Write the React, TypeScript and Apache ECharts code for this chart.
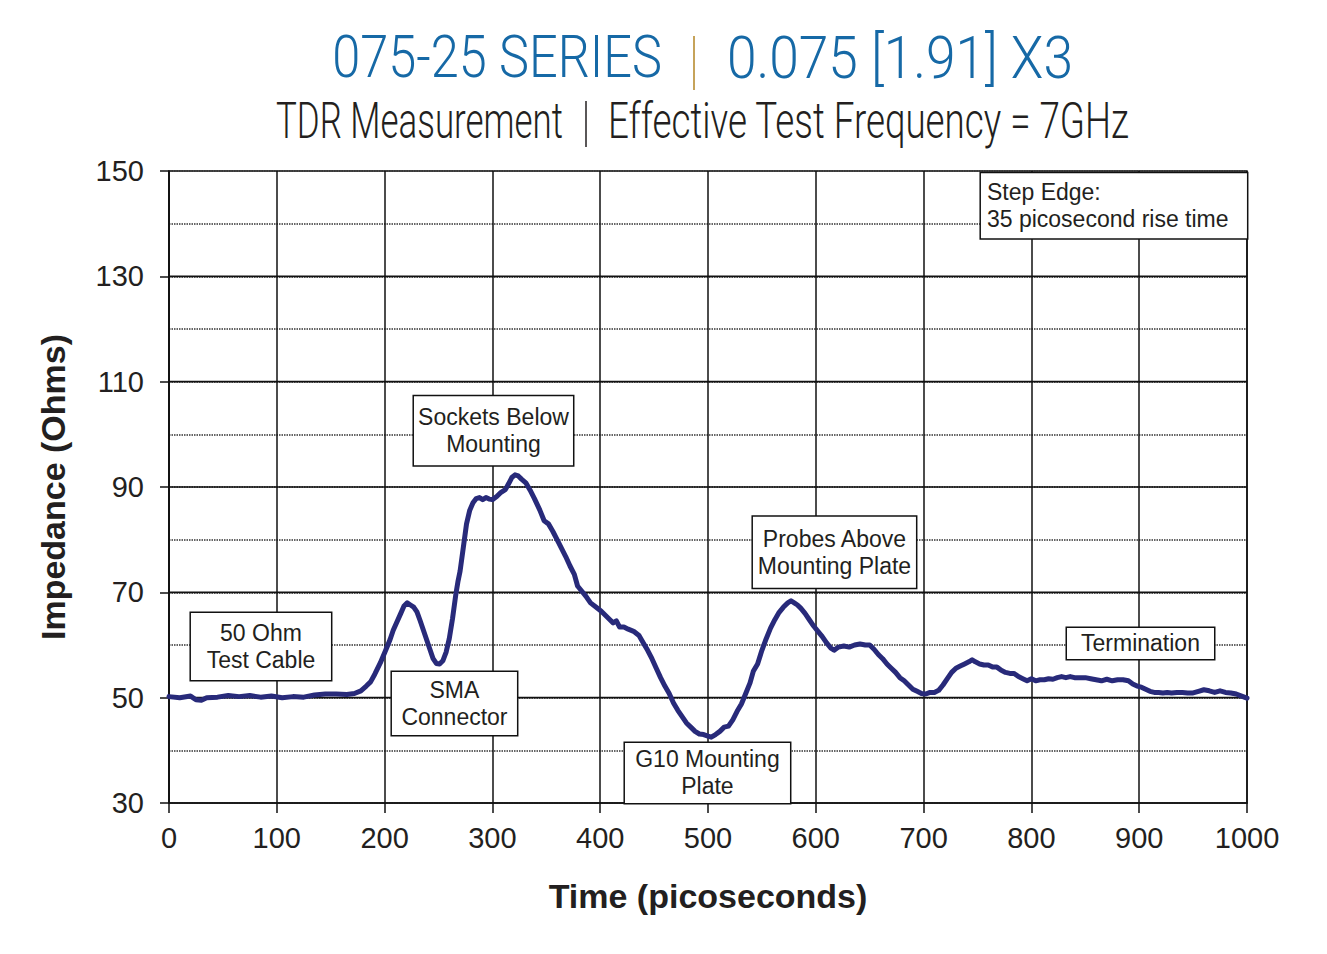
import React, { useEffect, useRef } from "react";
import * as echarts from "echarts";

const timePs = [
  0, 10, 20, 25, 30, 35, 45, 55, 65, 75, 85, 95, 105, 115, 125, 135, 145, 155, 165, 172,
  178, 183, 187, 191, 196, 201, 205, 208, 211, 215, 218, 221, 224, 227, 230, 233, 236, 239, 242, 245,
  248, 251, 254, 257, 260, 263, 266, 268, 270, 273, 276, 279, 282, 285, 288, 291, 294, 297, 300, 304,
  308, 312, 315, 318, 321, 324, 327, 331, 335, 339, 344, 348, 352, 356, 360, 364, 368, 372, 376, 379,
  383, 387, 391, 396, 401, 405, 409, 412, 415, 418, 422, 426, 431, 436, 440, 444, 448, 452, 456, 460,
  464, 468, 472, 476, 480, 484, 488, 492, 496, 500, 503, 507, 511, 515, 519, 523, 527, 531, 535, 539,
  542, 546, 550, 554, 558, 562, 566, 570, 574, 577, 580, 583, 586, 590, 594, 598, 602, 606, 610, 614,
  617, 621, 626, 631, 636, 641, 646, 650, 654, 658, 662, 666, 670, 674, 678, 682, 686, 690, 694, 698,
  702, 706, 710, 714, 718, 722, 726, 730, 734, 738, 742, 745, 748, 752, 756, 760, 764, 768, 772, 776,
  780, 784, 788, 792, 796, 800, 804, 808, 812, 816, 820, 824, 828, 832, 836, 840, 845, 850, 855, 860,
  865, 870, 875, 880, 885, 890, 894, 898, 902, 906, 910, 914, 918, 922, 926, 930, 935, 940, 945, 950,
  955, 960, 965, 970, 975, 980, 985, 990, 995, 1000,
];

const impedanceOhms = [
  50.2, 50.0, 50.3, 49.6, 49.5, 50.0, 50.1, 50.4, 50.2, 50.4, 50.1, 50.3, 50.0, 50.2, 50.1, 50.5, 50.7, 50.7, 50.6, 50.8,
  51.3, 52.2, 53.0, 54.5, 56.6, 59.0, 61.0, 62.8, 64.2, 66.0, 67.4, 68.0, 67.6, 67.2, 66.3, 64.6, 62.8, 61.0, 59.2, 57.4,
  56.5, 56.4, 57.0, 58.6, 61.2, 65.0, 69.5, 72.0, 74.0, 78.5, 83.0, 85.6, 87.0, 87.8, 88.0, 87.6, 88.0, 87.7, 87.6, 88.2,
  89.0, 89.5, 90.6, 91.8, 92.3, 92.1, 91.5, 90.8, 89.4, 87.8, 85.6, 83.6, 83.0, 81.6, 80.0, 78.4, 76.8, 75.0, 73.4, 71.2,
  70.2, 69.2, 68.0, 67.2, 66.4, 65.6, 64.8, 64.2, 64.6, 63.4, 63.4, 63.0, 62.6, 61.8, 60.4, 59.0, 57.4, 55.6, 53.8, 52.2,
  50.8, 49.0, 47.6, 46.4, 45.2, 44.4, 43.6, 43.1, 43.0, 42.7, 42.5, 43.0, 43.6, 44.4, 44.6, 45.8, 47.4, 48.8, 50.8, 52.8,
  55.0, 56.4, 59.0, 61.2, 63.2, 64.8, 66.2, 67.2, 68.0, 68.4, 68.0, 67.6, 67.0, 66.0, 64.8, 63.6, 62.6, 61.6, 60.4, 59.4,
  59.0, 59.6, 59.8, 59.6, 60.0, 60.2, 60.0, 60.0, 59.2, 58.2, 57.4, 56.4, 55.6, 54.8, 53.8, 53.2, 52.4, 51.6, 51.2, 50.8,
  50.7, 51.0, 51.0, 51.4, 52.4, 53.6, 54.8, 55.6, 56.0, 56.4, 56.8, 57.2, 56.8, 56.4, 56.2, 56.2, 55.8, 55.8, 55.2, 54.8,
  54.6, 54.6, 54.0, 53.6, 53.2, 53.6, 53.2, 53.4, 53.4, 53.6, 53.5, 53.8, 54.0, 53.8, 54.0, 53.8, 53.8, 53.8, 53.6, 53.4,
  53.2, 53.5, 53.2, 53.4, 53.4, 53.2, 52.6, 52.2, 52.0, 51.6, 51.2, 51.0, 51.0, 50.9, 51.0, 50.9, 51.0, 51.0, 50.9, 50.9,
  51.2, 51.5, 51.3, 51.0, 51.3, 51.0, 50.9, 50.7, 50.3, 49.9,
];

const xTickValues = [0, 100, 200, 300, 400, 500, 600, 700, 800, 900, 1000];
const yTickLabels = [30, 50, 70, 90, 110, 130, 150];

const annotationTexts = [
  "50 Ohm\nTest Cable",
  "SMA\nConnector",
  "Sockets Below\nMounting",
  "G10 Mounting\nPlate",
  "Probes Above\nMounting Plate",
  "Termination",
  "Step Edge:\n35 picosecond rise time",
];
// anchor (data units) of each annotation box
const annotationTime = [85.3, 264.8, 301.0, 499.5, 617.3, 901.2, 753.2];
const annotationOhms = [59.7, 48.9, 100.7, 35.7, 77.6, 60.3, 143.4];
// box layout (px)
const annotationBoxW = [140, 125, 159, 165, 163, 147, 266];
const annotationBoxH = [67, 63, 69, 60, 71, 31, 65];
const annotationAlign = ["center", "center", "center", "center", "center", "center", "left"];

const TITLE_FAMILY = "Roboto, 'Liberation Sans Narrow', 'DejaVu Sans Condensed', sans-serif";
const AXIS_FAMILY = "'Liberation Sans', Arial, Helvetica, sans-serif";

function measure(text: string, font: string): number {
  const c = document.createElement("canvas").getContext("2d");
  if (!c) return text.length * 20;
  c.font = font;
  return c.measureText(text).width;
}

export default function App() {
  const ref = useRef<HTMLDivElement>(null);

  useEffect(() => {
    document.body.style.margin = "0";
    if (!ref.current) return;
    const chart = echarts.init(ref.current, null, { renderer: "svg" });

    const titleBlue = "#1669a6";
    const gold = "#c6a35a";
    const dark = "#231f20";

    const tFont = (size: number) => `300 ${size}px ${TITLE_FAMILY}`;
    const scaledText = (
      text: string,
      size: number,
      anchorX: number,
      targetW: number,
      cy: number,
      align: "left" | "right",
      color: string
    ) => {
      const w = measure(text, tFont(size));
      return {
        type: "text",
        x: anchorX,
        y: cy,
        scaleX: targetW / w,
        silent: true,
        style: {
          text,
          fontSize: size,
          fontFamily: TITLE_FAMILY,
          fontWeight: 300,
          fill: color,
          textAlign: align,
          textVerticalAlign: "middle",
        },
      };
    };

    const lineH = 27;
    const shiftUp = 2;
    const markData = annotationTexts.map((text, i) => {
      const nLines = text.split("\n").length;
      const contentH = nLines * lineH;
      const pv = Math.max(0, (annotationBoxH[i] - contentH) / 2);
      const left = annotationAlign[i] === "left";
      const pt = Math.max(0, pv - shiftUp);
      const pb = pv + (pv - pt);
      return {
        coord: [annotationTime[i], annotationOhms[i]],
        label: {
          show: true,
          position: "inside",
          formatter: text,
          align: annotationAlign[i],
          verticalAlign: "middle",
          width: left ? annotationBoxW[i] - 6 : annotationBoxW[i],
          height: contentH,
          padding: left ? [pt, 0, pb, 6] : [pt, 0, pb, 0],
          lineHeight: lineH,
          fontSize: 23,
          fontFamily: AXIS_FAMILY,
          color: dark,
          backgroundColor: "#ffffff",
          borderColor: "#111",
          borderWidth: 1.5,
        },
      };
    });

    const majorGridSeries = yTickLabels
      .filter((v) => v > 30 && v < 150)
      .map((v) => ({
        type: "line",
        silent: true,
        z: 2,
        data: [
          [xTickValues[0], v],
          [xTickValues[xTickValues.length - 1], v],
        ],
        showSymbol: false,
        symbol: "none",
        lineStyle: { color: "#111", width: 1.6, type: "solid" },
        tooltip: { show: false },
      }));

    const option: any = {
      animation: false,
      backgroundColor: "#ffffff",
      grid: {
        left: 169,
        top: 171,
        right: 80,
        bottom: 151,
        show: true,
        borderColor: "#111",
        borderWidth: 1.5,
        backgroundColor: "transparent",
        outerBoundsMode: "none",
        containLabel: false,
      },
      xAxis: {
        type: "value",
        min: 0,
        max: 1000,
        interval: 100,
        name: "Time (picoseconds)",
        nameLocation: "middle",
        nameGap: 76,
        nameTextStyle: { fontSize: 34, fontWeight: "bold", fontFamily: AXIS_FAMILY, color: dark },
        axisLine: { show: true, onZero: false, lineStyle: { color: "#111", width: 1.5 } },
        axisTick: { show: true, inside: false, length: 10, lineStyle: { color: "#111", width: 1.5 } },
        axisLabel: {
          fontSize: 29,
          fontFamily: AXIS_FAMILY,
          color: dark,
          margin: 20,
          formatter: (v: number) => String(v),
        },
        splitLine: { show: true, lineStyle: { color: "#111", width: 1.5, type: "solid" } },
      },
      yAxis: [
        {
          type: "value",
          min: 30,
          max: 150,
          interval: 10,
          name: "Impedance (Ohms)",
          nameLocation: "middle",
          nameGap: 99,
          nameRotate: 90,
          nameTextStyle: { fontSize: 34, fontWeight: "bold", fontFamily: AXIS_FAMILY, color: dark },
          axisLine: { show: true, onZero: false, lineStyle: { color: "#111", width: 1.5 } },
          axisTick: { show: false },
          axisLabel: {
            fontSize: 29,
            fontFamily: AXIS_FAMILY,
            color: dark,
            margin: 25,
            formatter: (v: number) => (yTickLabels.indexOf(v) >= 0 ? String(v) : ""),
          },
          splitLine: { show: true, lineStyle: { color: "#333", width: 1.6, type: [1.5, 1] } },
        },
        {
          type: "value",
          position: "left",
          min: 30,
          max: 150,
          interval: 10,
          axisLine: { show: false },
          axisLabel: { show: false },
          splitLine: { show: false },
          axisTick: {
            show: true,
            inside: false,
            length: 9,
            customValues: yTickLabels,
            lineStyle: { color: "#111", width: 1.5 },
          },
        },
      ],
      series: [
        ...majorGridSeries,
        {
          type: "line",
          z: 3,
          data: timePs.map((t, i) => [t, impedanceOhms[i]]),
          showSymbol: false,
          symbol: "none",
          smooth: false,
          lineStyle: { color: "#282a7a", width: 5, join: "round", cap: "round" },
          markPoint: {
            silent: true,
            z: 10,
            symbol: "circle",
            symbolSize: 1,
            itemStyle: { color: "rgba(0,0,0,0)" },
            data: markData,
          },
        },
      ],
      graphic: [
        scaledText("075-25 SERIES", 60, 662, 330, 57, "right", titleBlue),
        scaledText("0.075 [1.91] X3", 60, 727, 346, 57, "left", titleBlue),
        {
          type: "line",
          silent: true,
          shape: { x1: 694, y1: 36, x2: 694, y2: 90 },
          style: { stroke: gold, lineWidth: 2 },
        },
        scaledText("TDR Measurement", 50, 563, 287, 121, "right", dark),
        scaledText("Effective Test Frequency = 7GHz", 50, 608, 522, 121, "left", dark),
        {
          type: "line",
          silent: true,
          shape: { x1: 586, y1: 101, x2: 586, y2: 147 },
          style: { stroke: dark, lineWidth: 1.5 },
        },
      ],
    };

    chart.setOption(option);
    return () => chart.dispose();
  }, []);

  return <div ref={ref} style={{ width: 1327, height: 954 }} />;
}
